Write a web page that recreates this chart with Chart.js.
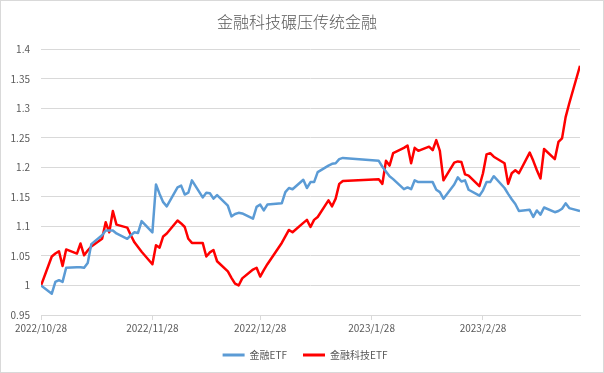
<!DOCTYPE html>
<html>
<head>
<meta charset="utf-8">
<script src="https://cdn.jsdelivr.net/npm/chart.js@4.4.1/dist/chart.umd.min.js"></script>
<style>
  body { margin: 0; background: #fff; }
  #wrap { width: 604px; height: 373px; }
</style>
</head>
<body>
<div id="wrap"><canvas id="chart" width="604" height="373"></canvas></div>
<script>
// Trading days shown in the chart
const dates = [
    '2022/10/28', '2022/10/31',
    '2022/11/1', '2022/11/2', '2022/11/3', '2022/11/4', '2022/11/7', '2022/11/8', '2022/11/9', '2022/11/10', '2022/11/11',
    '2022/11/14', '2022/11/15', '2022/11/16', '2022/11/17', '2022/11/18', '2022/11/21', '2022/11/22', '2022/11/23', '2022/11/24',
    '2022/11/25', '2022/11/28', '2022/11/29', '2022/11/30',
    '2022/12/1', '2022/12/2', '2022/12/5', '2022/12/6', '2022/12/7', '2022/12/8', '2022/12/9', '2022/12/12', '2022/12/13',
    '2022/12/14', '2022/12/15', '2022/12/16', '2022/12/19', '2022/12/20', '2022/12/21', '2022/12/22', '2022/12/23', '2022/12/26',
    '2022/12/27', '2022/12/28', '2022/12/29', '2022/12/30',
    '2023/1/3', '2023/1/4', '2023/1/5', '2023/1/6', '2023/1/9', '2023/1/10', '2023/1/11', '2023/1/12', '2023/1/13',
    '2023/1/16', '2023/1/17', '2023/1/18', '2023/1/19', '2023/1/20', '2023/1/30', '2023/1/31',
    '2023/2/1', '2023/2/2', '2023/2/3', '2023/2/6', '2023/2/7', '2023/2/8', '2023/2/9', '2023/2/10', '2023/2/13', '2023/2/14',
    '2023/2/15', '2023/2/16', '2023/2/17', '2023/2/20', '2023/2/21', '2023/2/22', '2023/2/23', '2023/2/24', '2023/2/27', '2023/2/28',
    '2023/3/1', '2023/3/2', '2023/3/3', '2023/3/6', '2023/3/7', '2023/3/8', '2023/3/9', '2023/3/10', '2023/3/13', '2023/3/14',
    '2023/3/15', '2023/3/16', '2023/3/17', '2023/3/20', '2023/3/21', '2023/3/22', '2023/3/23', '2023/3/24', '2023/3/27'
];

// 金融ETF (blue)
const financeEtf = [
    1.000, 0.986,
    1.006, 1.009, 1.006, 1.030, 1.031, 1.031, 1.030, 1.038, 1.070,
    1.085, 1.093, 1.093, 1.093, 1.088, 1.079, 1.085, 1.090, 1.089,
    1.109, 1.090, 1.171, 1.155,
    1.141, 1.134, 1.166, 1.169, 1.154, 1.157, 1.178, 1.149, 1.157,
    1.156, 1.147, 1.153, 1.135, 1.117, 1.121, 1.123, 1.122, 1.113,
    1.133, 1.137, 1.127, 1.137,
    1.139, 1.158, 1.165, 1.163, 1.179, 1.165, 1.175, 1.175, 1.192,
    1.203, 1.206, 1.207, 1.214, 1.216, 1.211, 1.201,
    1.193, 1.185, 1.180, 1.163, 1.166, 1.163, 1.178, 1.175, 1.175, 1.175,
    1.162, 1.158, 1.147, 1.171, 1.183, 1.176, 1.178, 1.162, 1.152, 1.161,
    1.175, 1.175, 1.185, 1.165, 1.155, 1.146, 1.138, 1.126, 1.128, 1.116,
    1.127, 1.120, 1.132, 1.124, 1.126, 1.130, 1.139, 1.131, 1.126
];

// 金融科技ETF (red)
const fintechEtf = [
    1.000, 1.049,
    1.054, 1.058, 1.033, 1.061, 1.054, 1.071, 1.051, 1.059, 1.066,
    1.079, 1.107, 1.090, 1.126, 1.103, 1.098, 1.085, 1.073, 1.065,
    1.057, 1.036, 1.068, 1.064,
    1.083, 1.088, 1.110, 1.105, 1.099, 1.079, 1.072, 1.072, 1.049,
    1.056, 1.060, 1.041, 1.024, 1.013, 1.003, 1.000, 1.012, 1.027,
    1.030, 1.015, 1.026, 1.036,
    1.072, 1.083, 1.094, 1.090, 1.106, 1.111, 1.099, 1.111, 1.116,
    1.144, 1.134, 1.147, 1.172, 1.177, 1.180, 1.172,
    1.211, 1.203, 1.224, 1.233, 1.237, 1.207, 1.233, 1.228, 1.235, 1.229,
    1.246, 1.228, 1.178, 1.208, 1.210, 1.209, 1.188, 1.186, 1.168, 1.190,
    1.222, 1.224, 1.218, 1.207, 1.172, 1.190, 1.195, 1.190, 1.225, 1.211,
    1.195, 1.181, 1.231, 1.214, 1.243, 1.249, 1.285, 1.308, 1.372
];

// x axis labels (one a month)
const tickLabels = ['2022/10/28', '2022/11/28', '2022/12/28', '2023/1/28', '2023/2/28'];

const seriesNames = ['金融ETF', '金融科技ETF'];
const seriesColors = ['#5B9BD5', '#FF0000'];

// days since the first date
function dayOf(s) {
    const p = s.split('/').map(Number);
    return Date.UTC(p[0], p[1] - 1, p[2]) / 86400000;
}
const day0 = dayOf(dates[0]);
const xs = dates.map(d => dayOf(d) - day0);
const tickDays = tickLabels.map(d => dayOf(d) - day0);

const font = '"Noto Sans CJK SC", "Noto Sans", sans-serif';
const grey = '#595959';

function makeSet(i, values) {
    return {
        label: seriesNames[i],
        data: values.map((v, k) => ({ x: xs[k], y: v })),
        borderColor: seriesColors[i],
        backgroundColor: seriesColors[i],
        borderWidth: 2.5,
        pointRadius: 0,
        tension: 0,
        borderJoinStyle: 'round'
    };
}

// light frame around the chart, like the Excel chart border
const framePlugin = {
    id: 'frame',
    afterLayout(chart) {
        // title and legend sit centred on the whole chart, nudge them there
        const lg = chart.legend;
        lg.left += 15; lg.right += 15;
        lg.top -= 2; lg.bottom -= 2;
        const tb = chart.titleBlock;
        tb.left += 7; tb.right += 7;
    },
    afterDraw(chart) {
        const ctx = chart.ctx;
        ctx.save();
        ctx.strokeStyle = '#d9d9d9';
        ctx.lineWidth = 1;
        ctx.strokeRect(0.5, 0.5, chart.width - 1, chart.height - 1);
        ctx.restore();
    }
};

new Chart(document.getElementById('chart'), {
    type: 'line',
    data: { datasets: [makeSet(0, financeEtf), makeSet(1, fintechEtf)] },
    options: {
        responsive: false,
        animation: false,
        layout: { padding: { left: 0, right: 24, top: 0, bottom: 1 } },
        plugins: {
            title: {
                display: true,
                text: '金融科技碾压传统金融',
                color: grey,
                font: { family: font, size: 16, weight: 300 },
                padding: { top: 12, bottom: 18 }
            },
            legend: {
                position: 'bottom',
                labels: {
                    color: grey,
                    font: { family: font, size: 10 },
                    boxWidth: 22,
                    boxHeight: 3,
                    padding: 16,
                    generateLabels: chart => Chart.defaults.plugins.legend.labels.generateLabels(chart)
                        .map(l => Object.assign(l, { lineWidth: 0 }))
                }
            },
            tooltip: { enabled: false }
        },
        scales: {
            x: {
                type: 'linear',
                min: 0,
                max: xs[xs.length - 1],
                afterBuildTicks: scale => { scale.ticks = tickDays.map(v => ({ value: v })); },
                ticks: {
                    color: grey,
                    font: { family: font, size: 10 },
                    maxRotation: 0,
                    autoSkip: false,
                    padding: 2,
                    callback: v => tickLabels[tickDays.indexOf(v)]
                },
                grid: { drawOnChartArea: false, drawTicks: true, tickLength: 5, color: '#d9d9d9' },
                border: { color: '#d9d9d9' }
            },
            y: {
                min: 0.95,
                max: 1.4,
                afterFit: scale => { scale.width = 41; },
                ticks: {
                    stepSize: 0.05,
                    color: grey,
                    font: { family: font, size: 10 },
                    padding: 11,
                    callback: v => String(parseFloat(v.toFixed(2)))
                },
                grid: { color: '#d9d9d9', drawTicks: false },
                border: { display: false }
            }
        }
    },
    plugins: [framePlugin]
});
</script>
</body>
</html>
